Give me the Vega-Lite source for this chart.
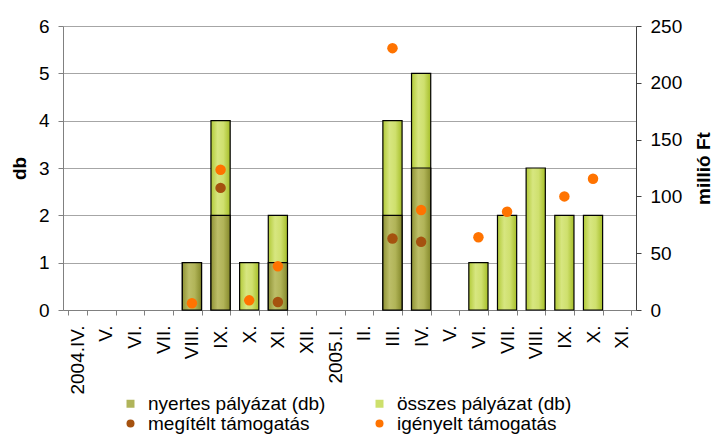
{
  "$schema": "https://vega.github.io/schema/vega-lite/v6.json",
  "width": 573,
  "height": 284,
  "autosize": {"type": "none"},
  "padding": {"left": 63, "top": 26, "right": 80, "bottom": 124},
  "background": "white",
  "config": {
    "view": {"stroke": null},
    "font": "Liberation Sans",
    "axis": {
      "labelFont": "Liberation Sans",
      "labelFontSize": 19,
      "labelColor": "#000000",
      "titleFont": "Liberation Sans",
      "titleFontSize": 19,
      "titleFontWeight": "bold",
      "titleColor": "#000000",
      "domainColor": "#808080",
      "tickColor": "#808080",
      "tickSize": 5
    },
    "legend": {
      "labelFont": "Liberation Sans",
      "labelFontSize": 19,
      "labelColor": "#000000",
      "labelLimit": 400
    }
  },
  "data": {
    "values": [
      {"i": 1, "osszes": null, "nyertes": null, "megítélt támogatás": null, "igényelt támogatás": null},
      {"i": 2, "osszes": null, "nyertes": null, "megítélt támogatás": null, "igényelt támogatás": null},
      {"i": 3, "osszes": null, "nyertes": null, "megítélt támogatás": null, "igényelt támogatás": null},
      {"i": 4, "osszes": null, "nyertes": null, "megítélt támogatás": null, "igényelt támogatás": null},
      {"i": 5, "osszes": 1, "nyertes": 1, "megítélt támogatás": null, "igényelt támogatás": 6},
      {"i": 6, "osszes": 4, "nyertes": 2, "megítélt támogatás": 107.5, "igényelt támogatás": 123.5},
      {"i": 7, "osszes": 1, "nyertes": null, "megítélt támogatás": null, "igényelt támogatás": 8.5},
      {"i": 8, "osszes": 2, "nyertes": 1, "megítélt támogatás": 7, "igényelt támogatás": 38.5},
      {"i": 9, "osszes": null, "nyertes": null, "megítélt támogatás": null, "igényelt támogatás": null},
      {"i": 10, "osszes": null, "nyertes": null, "megítélt támogatás": null, "igényelt támogatás": null},
      {"i": 11, "osszes": null, "nyertes": null, "megítélt támogatás": null, "igényelt támogatás": null},
      {"i": 12, "osszes": 4, "nyertes": 2, "megítélt támogatás": 63, "igényelt támogatás": 230.5},
      {"i": 13, "osszes": 5, "nyertes": 3, "megítélt támogatás": 60, "igényelt támogatás": 88},
      {"i": 14, "osszes": null, "nyertes": null, "megítélt támogatás": null, "igényelt támogatás": null},
      {"i": 15, "osszes": 1, "nyertes": null, "megítélt támogatás": null, "igényelt támogatás": 64},
      {"i": 16, "osszes": 2, "nyertes": null, "megítélt támogatás": null, "igényelt támogatás": 86.5},
      {"i": 17, "osszes": 3, "nyertes": null, "megítélt támogatás": null, "igényelt támogatás": null},
      {"i": 18, "osszes": 2, "nyertes": null, "megítélt támogatás": null, "igényelt támogatás": 100},
      {"i": 19, "osszes": 2, "nyertes": null, "megítélt támogatás": null, "igényelt támogatás": 115.5},
      {"i": 20, "osszes": null, "nyertes": null, "megítélt támogatás": null, "igényelt támogatás": null}
    ]
  },
  "encoding": {
    "x": {
      "field": "i",
      "type": "ordinal",
      "scale": {"domain": [1, 2, 3, 4, 5, 6, 7, 8, 9, 10, 11, 12, 13, 14, 15, 16, 17, 18, 19, 20], "paddingInner": 0.33, "paddingOuter": 0.165},
      "axis": {
        "title": null,
        "grid": false,
        "tickBand": "extent",
        "labelAngle": -90,
        "labelPadding": 10,
        "labelExpr": "['2004.IV.','V.','VI.','VII.','VIII.','IX.','X.','XI.','XII.','2005.I.','II.','III.','IV.','V.','VI.','VII.','VIII.','IX.','X.','XI.'][datum.value-1]"
      }
    }
  },
  "layer": [
    {
      "layer": [
        {
          "mark": {
            "type": "bar",
            "stroke": "#000000",
            "strokeWidth": 1.2,
            "color": {
              "gradient": "linear", "x1": 0, "x2": 1, "y1": 0, "y2": 0,
              "stops": [
                {"offset": 0, "color": "#b2ca38"},
                {"offset": 0.35, "color": "#d7e680"},
                {"offset": 0.65, "color": "#cfe06e"},
                {"offset": 1, "color": "#a6be28"}
              ]
            }
          },
          "encoding": {
            "y": {
              "field": "osszes",
              "type": "quantitative",
              "scale": {"domain": [0, 6]},
              "axis": {"title": "db", "values": [0, 1, 2, 3, 4, 5, 6], "grid": true, "gridColor": "#a6a6a6", "labelPadding": 9, "titlePadding": 9}
            }
          }
        },
        {
          "mark": {
            "type": "bar",
            "stroke": "#000000",
            "strokeWidth": 1.2,
            "color": {
              "gradient": "linear", "x1": 0, "x2": 1, "y1": 0, "y2": 0,
              "stops": [
                {"offset": 0, "color": "#8f9335"},
                {"offset": 0.35, "color": "#bcbe68"},
                {"offset": 0.65, "color": "#b1b458"},
                {"offset": 1, "color": "#84882a"}
              ]
            }
          },
          "encoding": {
            "y": {
              "field": "nyertes",
              "type": "quantitative",
              "scale": {"domain": [0, 6]},
              "axis": {"title": "db", "values": [0, 1, 2, 3, 4, 5, 6], "grid": true, "gridColor": "#a6a6a6", "labelPadding": 9, "titlePadding": 9}
            }
          }
        }
      ]
    },
    {
      "transform": [
        {"fold": ["megítélt támogatás", "igényelt támogatás"], "as": ["key", "val"]}
      ],
      "mark": {"type": "point", "filled": true, "size": 110, "opacity": 1, "strokeWidth": 0},
      "encoding": {
        "y": {
          "field": "val",
          "type": "quantitative",
          "scale": {"domain": [0, 250]},
          "axis": {"orient": "right", "title": "millió Ft", "values": [0, 50, 100, 150, 200, 250], "grid": false, "labelPadding": 9, "titlePadding": 32, "titleAngle": 270, "domainColor": "#404040", "tickColor": "#404040"}
        },
        "color": {
          "field": "key",
          "type": "nominal",
          "scale": {
            "domain": ["nyertes pályázat (db)", "megítélt támogatás", "összes pályázat (db)", "igényelt támogatás"],
            "range": ["#b0b45a", "#a5520f", "#cde06c", "#ff7300"]
          },
          "legend": {
            "title": null,
            "orient": "none",
            "legendX": 58,
            "legendY": 368,
            "columns": 2,
            "columnPadding": 44,
            "rowPadding": 0,
            "symbolSize": 64,
            "labelOffset": 8,
            "labelFontSize": 19,
            "labelLimit": 400
          }
        },
        "shape": {
          "field": "key",
          "type": "nominal",
          "scale": {
            "domain": ["nyertes pályázat (db)", "megítélt támogatás", "összes pályázat (db)", "igényelt támogatás"],
            "range": ["square", "circle", "square", "circle"]
          },
          "legend": {
            "title": null,
            "orient": "none",
            "legendX": 58,
            "legendY": 368,
            "columns": 2,
            "columnPadding": 44,
            "rowPadding": 0,
            "symbolSize": 64,
            "labelOffset": 8,
            "labelFontSize": 19,
            "labelLimit": 400
          }
        }
      }
    }
  ],
  "resolve": {"scale": {"y": "independent"}}
}
